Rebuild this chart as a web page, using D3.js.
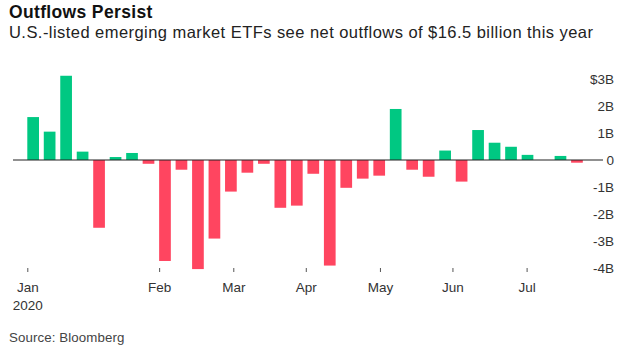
<!DOCTYPE html>
<html>
<head>
<meta charset="utf-8">
<script src="https://cdn.jsdelivr.net/npm/d3@7"></script>
<style>
  body { margin: 0; background: #fff; }
  svg { display: block; font-family: 'Liberation Sans', Arial, sans-serif; }
</style>
</head>
<body>
<div id="chart"></div>
<script>
// weekly net flows, $ billions
const weeks = [
  '2020-01-03', '2020-01-10', '2020-01-17', '2020-01-24', '2020-01-31',
  '2020-02-07', '2020-02-14', '2020-02-21', '2020-02-28',
  '2020-03-06', '2020-03-13', '2020-03-20', '2020-03-27',
  '2020-04-03', '2020-04-10', '2020-04-17', '2020-04-24',
  '2020-05-01', '2020-05-08', '2020-05-15', '2020-05-22', '2020-05-29',
  '2020-06-05', '2020-06-12', '2020-06-19', '2020-06-26',
  '2020-07-03', '2020-07-10', '2020-07-17', '2020-07-24', '2020-07-31',
  '2020-08-07', '2020-08-14', '2020-08-21'
]
const flows = [
  1.59, 1.05, 3.12, 0.31, -2.51,
  0.11, 0.26, -0.14, -3.74,
  -0.36, -4.04, -2.91, -1.17,
  -0.47, -0.14, -1.77, -1.69,
  -0.51, -3.91, -1.03, -0.69, -0.58,
  1.89, -0.36, -0.62, 0.35,
  -0.8, 1.11, 0.64, 0.49, 0.19,
  0, 0.15, -0.1
]
const monthLabels = ['Jan', 'Feb', 'Mar', 'Apr', 'May', 'Jun', 'Jul']
const monthTickWeeks = [0, 8, 12.5, 16.9, 21.4, 25.8, 30.3] // position in week units
const yTicks = [-4, -3, -2, -1, 0, 1, 2, 3]

let svgWidth = 637,
  svgHeight = 352

let svg = d3
  .select('#chart')
  .append('svg')
  .attr('width', svgWidth)
  .attr('height', svgHeight)

// titles
svg
  .append('text')
  .attr('x', 9)
  .attr('y', 17.5)
  .attr('font-size', 17.5)
  .attr('font-weight', 'bold')
  .attr('letter-spacing', 0.35)
  .attr('fill', '#111')
  .text('Outflows Persist')

svg
  .append('text')
  .attr('x', 9)
  .attr('y', 37.5)
  .attr('font-size', 16.5)
  .attr('letter-spacing', 0.45)
  .attr('fill', '#222')
  .text('U.S.-listed emerging market ETFs see net outflows of $16.5 billion this year')

// scales
let x = d3
  .scaleBand()
  .domain(weeks)
  .range([27.3, 582.8])
  .paddingInner(0.29)
  .paddingOuter(0)

let xt = d3
  .scaleLinear()
  .domain([0, weeks.length - 1])
  .range([x(weeks[0]), x(weeks[weeks.length - 1])])

let y = d3.scaleLinear().domain([-4, 3]).range([268, 79])

// bars
svg
  .append('g')
  .selectAll('rect')
  .data(flows)
  .enter()
  .append('rect')
  .attr('x', (d, i) => x(weeks[i]))
  .attr('width', x.bandwidth())
  .attr('y', (d) => y(Math.max(0, d)))
  .attr('height', (d) => Math.abs(y(d) - y(0)))
  .attr('fill', (d) => (d >= 0 ? '#00c882' : '#ff4560'))

// zero line
svg
  .append('line')
  .attr('x1', 13)
  .attr('x2', 603)
  .attr('y1', y(0))
  .attr('y2', y(0))
  .attr('stroke', '#222')
  .attr('stroke-width', 1.2)

// y axis on the right
let yAxis = d3
  .axisLeft(y)
  .tickValues(yTicks)
  .tickSize(0)
  .tickPadding(0)
  .tickFormat((d) => (d === 3 ? '$3B' : d === 0 ? '0' : d + 'B'))

svg
  .append('g')
  .attr('class', 'y-axis')
  .attr('transform', 'translate(614,0)')
  .call(yAxis)
  .call((g) => g.select('.domain').remove())
  .selectAll('text')
  .attr('font-size', 13.5)
  .attr('font-family', null)
  .attr('fill', '#333')

// x axis
let xAxis = d3
  .axisBottom(xt)
  .tickValues(monthTickWeeks)
  .tickSize(4)
  .tickPadding(10)
  .tickFormat((d, i) => monthLabels[i])

let xg = svg
  .append('g')
  .attr('class', 'x-axis')
  .attr('transform', 'translate(0,268)')
  .call(xAxis)
  .call((g) => g.select('.domain').remove())

xg.selectAll('line').attr('stroke', '#555')
xg.selectAll('text').attr('font-size', 13.5).attr('font-family', null).attr('fill', '#333')

xg.select('.tick')
  .append('text')
  .attr('y', 42)
  .attr('fill', '#333')
  .attr('font-size', 13.5)
  .text('2020')

// source
svg
  .append('text')
  .attr('x', 9)
  .attr('y', 342)
  .attr('font-size', 13.3)
  .attr('letter-spacing', 0.1)
  .attr('fill', '#444')
  .text('Source: Bloomberg')
</script>
</body>
</html>
